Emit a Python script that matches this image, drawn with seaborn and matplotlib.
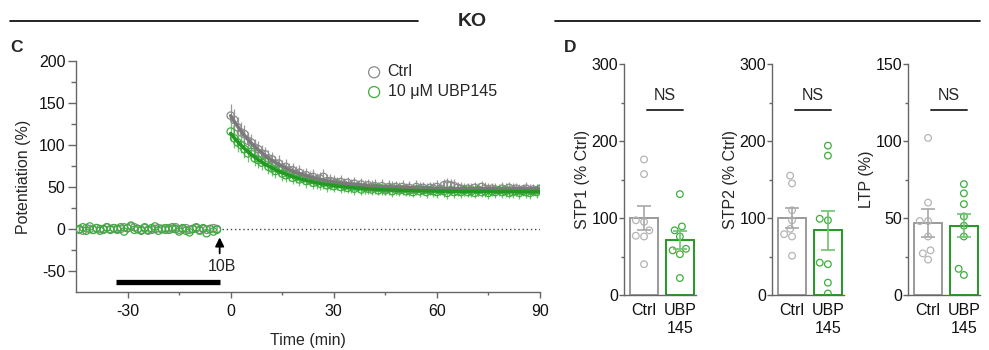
import numpy as np
import pandas as pd
import matplotlib
matplotlib.use("Agg")
import matplotlib.pyplot as plt
from matplotlib.lines import Line2D
import seaborn as sns

# ---- panel C: time course (% potentiation) ----
base_time = np.arange(-44, -3)          # 41 baseline samples, 1 per min
post_time = np.arange(0, 91)            # 91 samples after 10B

ctrl_base = [-1, -2, 1, 0, -1, 1, 0, -1, 2, 0, 1, -1, 0, 2, 1, 3, 2, 0, -1, 1,
             -2, -1, 0, 1, 0, -1, 1, 0, 2, -1, 0, 1, -1, 0, 1, -1, 0, -1, 0, 1, 0]
ubp_base = [0, 2, -2, 3, -1, 1, -2, 0, 2, -1, 1, 0, 2, -3, 1, 4, -1, 0, -2, 2,
            -1, 1, 3, -2, 0, 1, -1, 2, 0, -3, 1, -2, -4, 0, 2, -2, 1, -5, 0, -3, -1]

ctrl_post = [135, 130, 121, 115, 113, 105, 103, 97, 95, 90,
             89, 84, 83, 78, 78, 73, 74, 70, 70, 66,
             67, 63, 64, 61, 62, 59, 60, 62, 57, 57,
             56, 55, 56, 53, 55, 52, 54, 51, 53, 50,
             52, 50, 51, 49, 51, 48, 50, 49, 50, 48,
             50, 48, 49, 47, 50, 48, 49, 47, 49, 48,
             50, 48, 52, 53, 52, 51, 49, 48, 47, 48,
             47, 49, 47, 50, 48, 47, 48, 47, 46, 48,
             47, 49, 47, 48, 46, 47, 48, 46, 47, 46, 47]
ctrl_sem = [14, 13, 12, 12, 11, 11, 10, 10, 10, 10,
            9, 10, 9, 9, 10, 9, 9, 9, 8, 9,
            9, 8, 9, 8, 9, 8, 8, 9, 8, 8,
            8, 7, 8, 8, 7, 8, 8, 7, 8, 8,
            7, 8, 8, 7, 8, 7, 8, 8, 7, 8,
            8, 7, 8, 7, 8, 8, 7, 8, 7, 8,
            8, 7, 8, 8, 7, 8, 7, 8, 8, 7,
            8, 7, 8, 7, 8, 8, 7, 8, 7, 8,
            8, 7, 8, 7, 8, 7, 8, 8, 7, 8, 7]

ubp_post = [116, 108, 103, 100, 95, 90, 92, 84, 82, 79,
            80, 74, 72, 69, 71, 66, 64, 65, 61, 62,
            59, 60, 57, 58, 55, 56, 54, 55, 52, 53,
            51, 53, 50, 51, 49, 50, 48, 50, 47, 49,
            48, 47, 49, 46, 48, 46, 48, 45, 47, 46,
            47, 45, 46, 44, 47, 45, 46, 44, 46, 45,
            44, 46, 45, 43, 46, 44, 45, 44, 46, 44,
            45, 43, 46, 44, 45, 43, 45, 44, 46, 44,
            45, 43, 44, 45, 43, 45, 44, 43, 45, 44, 48]
ubp_sem = [11, 12, 11, 10, 10, 10, 9, 9, 9, 9,
           9, 8, 9, 8, 8, 9, 8, 8, 8, 7,
           8, 7, 8, 7, 7, 8, 7, 7, 8, 7,
           7, 6, 7, 7, 6, 7, 7, 6, 7, 7,
           6, 7, 7, 6, 7, 6, 7, 7, 6, 7,
           7, 6, 7, 6, 7, 7, 6, 7, 6, 7,
           7, 6, 7, 7, 6, 7, 6, 7, 7, 6,
           7, 6, 7, 6, 7, 7, 6, 7, 6, 7,
           7, 6, 7, 6, 7, 6, 7, 7, 6, 7, 6]

drug_on, drug_off = -33.5, -3.0   # UBP145 application bar
stim_time = -3.2                  # 10B arrow

# ---- panel D: per-slice summary values ----
groups = ["Ctrl", "UBP"]
group_ticks = ["Ctrl", "UBP\n145"]
stp1_ctrl = [176, 157, 97, 95, 84, 77, 76, 40]
stp1_ubp = [131, 89, 84, 76, 60, 58, 53, 22]
stp2_ctrl = [155, 145, 110, 97, 86, 79, 76, 51]
stp2_ubp = [194, 181, 97, 99, 40, 42, 16, 2]
ltp_ctrl = [102, 60, 48, 48, 38, 29, 27, 23]
ltp_ubp = [72, 66, 59, 51, 45, 38, 17, 13]

GREY = "#8a8a8a"
GREY_PT = "#b4b4b4"
GREEN = "#229a22"
GREEN_PT = "#3cae3c"
GREEN_ERR = "#6cc46c"
SPINE = "#666666"

sns.set_style("ticks")
plt.rcParams["font.family"] = ["Liberation Sans", "DejaVu Sans"]
plt.rcParams["axes.unicode_minus"] = False
plt.rcParams["font.size"] = 11


def fit_decay(t, y):
    # single exponential + plateau, grid over tau, linear least squares for the rest
    t = np.asarray(t, float)
    y = np.asarray(y, float)
    best = None
    for tau in np.arange(2, 40, 0.1):
        X = np.column_stack([np.ones_like(t), np.exp(-t / tau)])
        coef = np.linalg.lstsq(X, y, rcond=None)[0]
        err = np.sum((X @ coef - y) ** 2)
        if best is None or err < best[0]:
            best = (err, tau, coef)
    return best[1], best[2]


def style_axis(ax):
    for s in ["top", "right"]:
        ax.spines[s].set_visible(False)
    for s in ["left", "bottom"]:
        ax.spines[s].set_color(SPINE)
        ax.spines[s].set_linewidth(1.0)
    ax.tick_params(which="both", color=SPINE, width=1.0, labelcolor="#111111",
                   labelsize=11.5)


fig = plt.figure(figsize=(9.89, 3.5), dpi=100)

# header
fig.add_artist(Line2D([10 / 989, 418 / 989], [1 - 21 / 350] * 2, transform=fig.transFigure,
                      color="k", lw=1.2))
fig.add_artist(Line2D([555 / 989, 980 / 989], [1 - 21 / 350] * 2, transform=fig.transFigure,
                      color="k", lw=1.2))
fig.text(472 / 989, 1 - 21 / 350, "KO", ha="center", va="center", fontsize=14,
         fontweight="bold")
fig.text(10 / 989, 1 - 47 / 350, "C", ha="left", va="center", fontsize=12.5, fontweight="bold")
fig.text(564 / 989, 1 - 47 / 350, "D", ha="left", va="center", fontsize=12.5, fontweight="bold")

# ---------------- panel C ----------------
ax = fig.add_axes([76 / 989, 1 - 292 / 350, 464 / 989, 231 / 350])
style_axis(ax)

ax.errorbar(post_time, ctrl_post, yerr=ctrl_sem, fmt="none", ecolor="#999999",
            elinewidth=0.9, capsize=0, zorder=1)
ax.errorbar(post_time, ubp_post, yerr=ubp_sem, fmt="none", ecolor=GREEN_ERR,
            elinewidth=0.9, capsize=0, zorder=1)

t_all = np.concatenate([base_time, post_time])
sns.scatterplot(x=t_all, y=np.concatenate([ctrl_base, ctrl_post]), ax=ax, marker="o",
                s=28, facecolors="none", edgecolor=GREY, linewidth=0.9, zorder=2,
                label="Ctrl")
sns.scatterplot(x=t_all, y=np.concatenate([ubp_base, ubp_post]), ax=ax, marker="o",
                s=28, facecolors="none", edgecolor=GREEN_PT, linewidth=0.9, zorder=3,
                label="10 \u03bcM UBP145")
for coll in ax.collections:
    if isinstance(coll, matplotlib.collections.PathCollection):
        coll.set_facecolor("none")

t_fine = np.linspace(0, 90, 300)
for vals, col in [(ctrl_post, "#7a7a7a"), (ubp_post, GREEN)]:
    tau, (plateau, amp) = fit_decay(post_time, vals)
    sns.lineplot(x=t_fine, y=plateau + amp * np.exp(-t_fine / tau), ax=ax, color=col,
                 lw=2.5, zorder=4)

ax.plot([drug_off + 0.6, 90], [0, 0], ls=(0, (1, 2)), color="#444444", lw=1.0, zorder=0)
ax.plot([drug_on, drug_off], [-62.5, -62.5], color="k", lw=3.8, solid_capstyle="butt")
ax.annotate("", xy=(stim_time, -10), xytext=(stim_time, -29),
            arrowprops=dict(arrowstyle="-|>", color="k", lw=1.3, mutation_scale=13,
                            shrinkA=0, shrinkB=0))
ax.text(stim_time + 0.6, -45, "10B", ha="center", va="center", fontsize=11.5)

ax.set_xlim(-45, 90)
ax.set_ylim(-75, 200)
ax.set_xticks([-30, 0, 30, 60, 90])
ax.set_xticks([-15, 15, 45, 75], minor=True)
ax.set_yticks([-50, 0, 50, 100, 150, 200])
ax.set_yticks([-25, 25, 75, 125, 175], minor=True)
ax.tick_params(axis="y", which="major", length=6, pad=1.5)
ax.tick_params(axis="y", which="minor", length=3.5)
ax.tick_params(axis="x", which="major", length=4, pad=5)
ax.tick_params(axis="x", which="minor", length=2.5)
ax.set_xlabel("Time (min)", fontsize=11.5, labelpad=10)
ax.set_ylabel("Potentiation (%)", fontsize=11.5, labelpad=6)
leg = ax.legend(loc="upper left", bbox_to_anchor=(0.627, 0.985), frameon=False,
                handlelength=0.9, handletextpad=0.4, borderpad=0, borderaxespad=0,
                labelspacing=0.3, fontsize=11.5, markerscale=1.5)

# ---------------- panel D ----------------
panels = [
    (624, stp1_ctrl, stp1_ubp, 300, "STP1 (% Ctrl)"),
    (772, stp2_ctrl, stp2_ubp, 300, "STP2 (% Ctrl)"),
    (908, ltp_ctrl, ltp_ubp, 150, "LTP (%)"),
]
for left, c_vals, u_vals, ymax, ylabel in panels:
    axd = fig.add_axes([left / 989, 1 - 295 / 350, 72 / 989, 231 / 350])
    style_axis(axd)
    df = pd.DataFrame({"group": ["Ctrl"] * len(c_vals) + ["UBP"] * len(u_vals),
                       "value": c_vals + u_vals})
    sns.swarmplot(data=df, x="group", y="value", order=groups, ax=axd, size=4.8,
                  color="k", linewidth=0.9, zorder=3)
    pts = [c for c in axd.collections if isinstance(c, matplotlib.collections.PathCollection)]
    for coll, col in zip(pts, [GREY_PT, GREEN_PT]):
        coll.set_facecolor("none")
        coll.set_edgecolor(col)
    sns.barplot(data=df, x="group", y="value", order=groups, hue="group",
                palette={"Ctrl": "#9a9a9a", "UBP": GREEN}, fill=False, errorbar=None,
                width=0.78, linewidth=1.4, legend=False, ax=axd, zorder=2)
    for i, (vals, col) in enumerate([(c_vals, "#a8a8a8"), (u_vals, GREEN_ERR)]):
        v = np.asarray(vals, float)
        axd.errorbar(i, v.mean(), yerr=v.std(ddof=1) / np.sqrt(len(v)), fmt="none",
                     ecolor=col, elinewidth=1.2, capsize=4.7, capthick=1.2, zorder=4)
    # NS bracket
    axd.plot([0.07, 1.08], [ymax * 0.8, ymax * 0.8], color="#333333", lw=1.4)
    axd.text(0.57, ymax * 0.865, "NS", ha="center", va="center", fontsize=11.5)

    axd.set_xlim(-0.56, 1.45)
    axd.set_ylim(0, ymax)
    axd.set_yticks(np.linspace(0, ymax, 4))
    axd.set_yticks(np.linspace(ymax / 6, ymax * 5 / 6, 3), minor=True)
    axd.set_xticks([0, 1])
    axd.set_xticklabels(group_ticks)
    axd.tick_params(axis="y", which="major", length=3.5, pad=0.8)
    axd.tick_params(axis="y", which="minor", length=2.5)
    axd.tick_params(axis="x", length=0, pad=6)
    axd.set_xlabel("")
    axd.set_ylabel(ylabel, fontsize=11.5, labelpad=1)

fig.savefig("out.png", dpi=100)
